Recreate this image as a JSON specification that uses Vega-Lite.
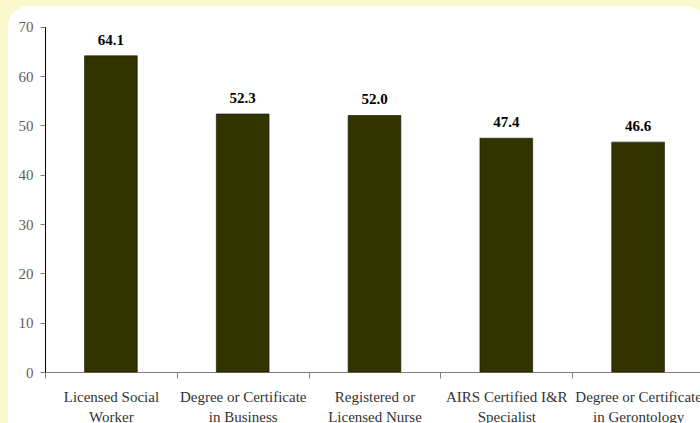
{
  "$schema": "https://vega.github.io/schema/vega-lite/v6.json",
  "width": 698,
  "height": 437,
  "autosize": "none",
  "padding": {"left": 8, "top": 6, "right": -6, "bottom": -20},
  "background": "#FAF8CC",
  "config": {
    "view": {"fill": "white", "stroke": null, "cornerRadius": 20},
    "font": "Liberation Serif"
  },
  "data": {
    "values": [
      {"credential": "Licensed Social\nWorker", "percent": 64.1},
      {"credential": "Degree or Certificate\nin Business", "percent": 52.3},
      {"credential": "Registered or\nLicensed Nurse", "percent": 52.0},
      {"credential": "AIRS Certified I&R\nSpecialist", "percent": 47.4},
      {"credential": "Degree or Certificate\nin Gerontology", "percent": 46.6}
    ]
  },
  "encoding": {
    "x": {
      "field": "credential",
      "type": "nominal",
      "sort": null,
      "scale": {"range": [37, 696], "paddingInner": 0, "paddingOuter": 0},
      "axis": {
        "title": null,
        "offset": -71,
        "tickBand": "extent",
        "tickColor": "#808080",
        "tickSize": 6,
        "domainColor": "#808080",
        "labelAngle": 0,
        "labelExpr": "isValid(datum.value) ? split(datum.value, '\\n') : ''",
        "labelBaseline": "alphabetic",
        "labelLineHeight": 20,
        "labelFont": "Liberation Serif",
        "labelFontSize": 15,
        "labelColor": "#333333",
        "labelPadding": 23,
        "labelOverlap": false,
        "labelLimit": 300
      }
    },
    "y": {
      "field": "percent",
      "type": "quantitative",
      "scale": {"domain": [0, 70], "range": [366, 20.7], "nice": false},
      "axis": {
        "title": null,
        "offset": -37,
        "values": [0, 10, 20, 30, 40, 50, 60, 70],
        "grid": false,
        "domainColor": "#000000",
        "tickColor": "#808080",
        "tickSize": 5,
        "labelFont": "Liberation Serif",
        "labelFontSize": 15,
        "labelColor": "#606060",
        "labelPadding": 7
      }
    }
  },
  "layer": [
    {
      "mark": {"type": "bar", "width": {"band": 0.4}, "fill": "#333300", "stroke": "#111100", "strokeWidth": 0.6}
    },
    {
      "mark": {"type": "text", "baseline": "alphabetic", "dy": -11, "fontWeight": "bold", "fontSize": 15, "color": "#000000", "font": "Liberation Serif"},
      "encoding": {"text": {"field": "percent", "type": "quantitative", "format": ".1f"}}
    }
  ]
}
